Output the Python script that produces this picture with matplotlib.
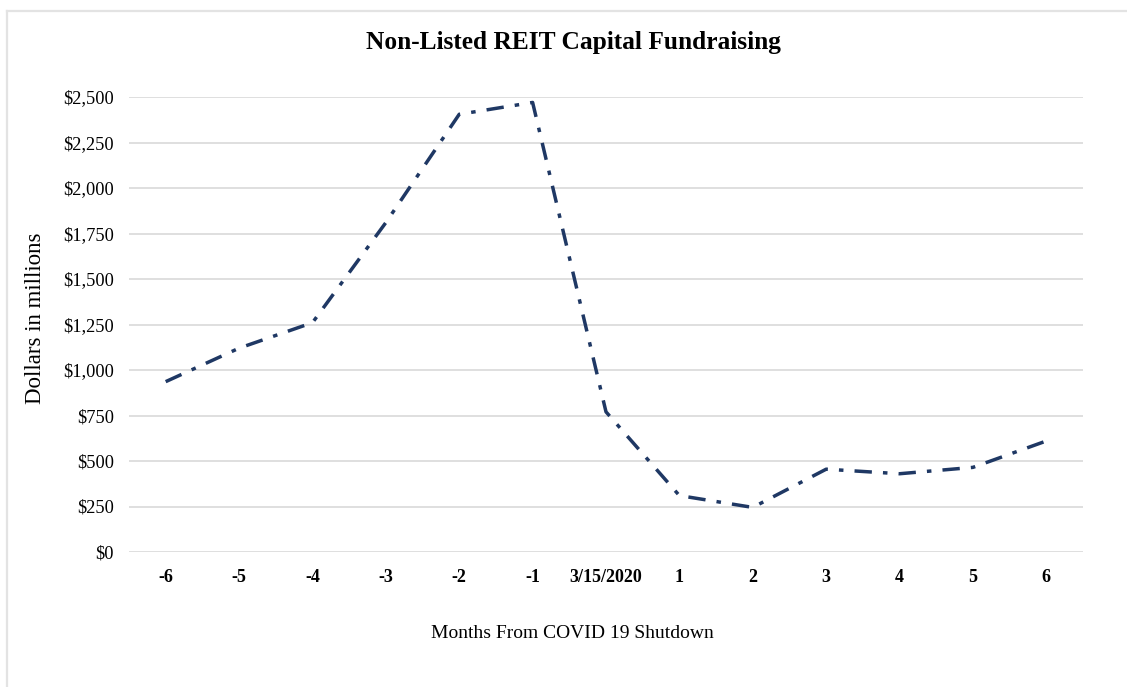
import matplotlib
matplotlib.use("Agg")
import matplotlib.pyplot as plt
from matplotlib.lines import Line2D

categories = ["-6", "-5", "-4", "-3", "-2", "-1", "3/15/2020", "1", "2", "3", "4", "5", "6"]
values = [936, 1120, 1260, 1810, 2405, 2470, 770, 310, 245, 455, 430, 465, 610]
yticks = [0, 250, 500, 750, 1000, 1250, 1500, 1750, 2000, 2250, 2500]
ytick_labels = ["$0", "$250", "$500", "$750", "$1,000", "$1,250", "$1,500",
                "$1,750", "$2,000", "$2,250", "$2,500"]

plt.rcParams['font.family'] = ['Liberation Serif', 'DejaVu Serif']

W, H = 1127, 687
fig = plt.figure(figsize=(W / 100, H / 100), dpi=100)
fig.patch.set_facecolor('white')

# outer border (left and top edges only visible)
bx, by = 7 / W, 1 - 11 / H
fig.add_artist(Line2D([bx, bx], [0, by], transform=fig.transFigure,
                      color='#e3e3e3', linewidth=1.6))
fig.add_artist(Line2D([bx, 1], [by, by], transform=fig.transFigure,
                      color='#e3e3e3', linewidth=1.6))

left, right, top, bottom = 129, 1083, 97, 552
ax = fig.add_axes([left / W, 1 - bottom / H, (right - left) / W, (bottom - top) / H])

x = list(range(len(categories)))
line, = ax.plot(x, values, color='#1F3864', linewidth=2.5, zorder=3)
line.set_dashes((5.0, 3.2, 1.3, 3.2))

ax.set_xlim(-0.5, len(categories) - 0.5)
ax.set_ylim(0, 2500)
ax.set_yticks(yticks)
ax.set_yticklabels(ytick_labels, fontsize=13.2)
ax.set_xticks(x)
ax.set_xticklabels(categories, fontsize=13, fontweight='bold')
ax.tick_params(axis='both', length=0)
ax.tick_params(axis='y', pad=11)
ax.tick_params(axis='x', pad=12)
ax.grid(axis='y', color='#d9d9d9', linewidth=1.2)
ax.set_axisbelow(True)
for s in ax.spines.values():
    s.set_visible(False)

fig.text(573 / W, 1 - 42 / H, "Non-Listed REIT Capital Fundraising", ha='center', va='center',
         fontsize=18.3, fontweight='bold')
fig.text(572 / W, 1 - 633 / H, "Months From COVID 19 Shutdown", ha='center', va='center',
         fontsize=14)
fig.text(36 / W, 1 - 318 / H, "Dollars in millions", ha='center', va='center',
         rotation=90, fontsize=16.5)

fig.savefig("out.png", dpi=100, facecolor='white')
